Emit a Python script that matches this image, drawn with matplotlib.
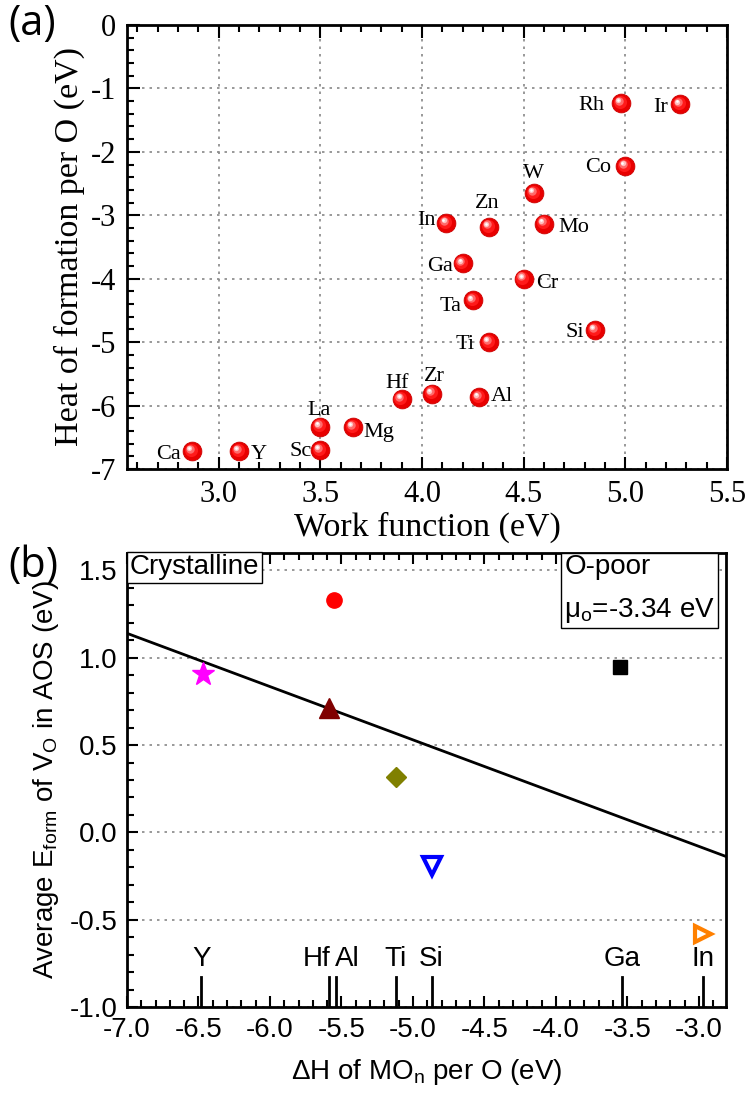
import matplotlib
matplotlib.use("Agg")
import matplotlib.pyplot as plt
from matplotlib.transforms import offset_copy
from matplotlib.ticker import MultipleLocator
import numpy as np

# ---------------- data: panel (a) ----------------
elements_a = ["Rh", "Ir", "Co", "W", "Zn", "In", "Mo", "Ga", "Cr", "Ta", "Si", "Ti",
              "Hf", "Zr", "Al", "Mg", "La", "Sc", "Ca", "Y"]
work_function = [4.98, 5.27, 5.00, 4.55, 4.33, 4.12, 4.60, 4.20, 4.50, 4.25, 4.85, 4.33,
                 3.90, 4.05, 4.28, 3.66, 3.50, 3.50, 2.87, 3.10]
heat_formation = [-1.23, -1.25, -2.22, -2.65, -3.18, -3.12, -3.13, -3.76, -4.00, -4.34, -4.81, -5.00,
                  -5.90, -5.81, -5.87, -6.34, -6.33, -6.70, -6.72, -6.72]

# ---------------- data: panel (b) ----------------
dh_points = [-6.47, -5.55, -5.59, -5.12, -4.87, -3.55, -2.97]
eform_points = [0.905, 1.33, 0.71, 0.316, -0.19, 0.95, -0.58]
fit_slope = -0.305
fit_intercept = -0.995
ref_elements = ["Y", "Hf", "Al", "Ti", "Si", "Ga", "In"]
ref_dh = [-6.48, -5.59, -5.54, -5.12, -4.87, -3.54, -2.97]
xticks_b = [-7.0, -6.5, -6.0, -5.5, -5.0, -4.5, -4.0, -3.5, -3.0]
yticks_b = [-1.0, -0.5, 0.0, 0.5, 1.0, 1.5]

# ---------------- styles ----------------
label_offsets = {  # pixels (dx, dy), ha
    "Rh": (-17, -2, "right"), "Ir": (-12, -3, "right"), "Co": (-14, -2, "right"),
    "W": (0, 20, "center"), "Zn": (-2, 23, "center"), "In": (-11, 2, "right"),
    "Mo": (14, -4, "left"), "Ga": (-10, -3, "right"), "Cr": (13, -5, "left"),
    "Ta": (-11, -6, "right"), "Si": (-11, -2, "right"), "Ti": (-14, -2, "right"),
    "Hf": (-4, 16, "center"), "Zr": (2, 17, "center"), "Al": (12, 1, "left"),
    "Mg": (11, -5, "left"), "La": (-1, 16, "center"), "Sc": (-8, -2, "right"),
    "Ca": (-11, -3, "right"), "Y": (12, -3, "left"),
}
marker_styles = [
    dict(marker="*", ms=17, mfc="#ff00ff", mec="#ff00ff"),
    dict(marker="o", ms=11, mfc="#ff0000", mec="#ff0000"),
    dict(marker="^", ms=14, mfc="#800000", mec="#800000"),
    dict(marker="D", ms=10, mfc="#808000", mec="#808000"),
    dict(marker="v", ms=13, mfc="white", mec="#0000ff", mew=3),
    dict(marker="s", ms=10, mfc="black", mec="black"),
    dict(marker=">", ms=12, mfc="white", mec="#ff8000", mew=3),
]
ref_label_ha = ["center", "right", "left", "center", "center", "center", "center"]
ref_label_dx = [0, 2, -1, 0, 0, 0, 0]

serif = "Liberation Serif"
sans = "Liberation Sans"

fig = plt.figure(figsize=(7.48, 10.95), dpi=100)
W, H = 748, 1095

def ax_rect(l, t, r, b):
    return [l / W, (H - b) / H, (r - l) / W, (b - t) / H]

# =============== panel (a) ===============
ax1 = fig.add_axes(ax_rect(127, 25, 727, 469))
ax1.set_xlim(2.55, 5.5)
ax1.set_ylim(-7, 0)
ax1.xaxis.set_minor_locator(MultipleLocator(0.1))
ax1.yaxis.set_minor_locator(MultipleLocator(0.2))
ax1.grid(True, which="major", linestyle=(0, (1.5, 3)), color="#888888", lw=1.2)
ax1.tick_params(which="both", direction="in", top=True, right=False, width=1.5)
ax1.tick_params(which="major", length=9, pad=8)
ax1.tick_params(which="minor", length=5)
ax1.set_xticks([3.0, 3.5, 4.0, 4.5, 5.0, 5.5])
ax1.set_xticklabels(["3.0", "3.5", "4.0", "4.5", "5.0", "5.5"], fontfamily=serif, fontsize=22)
ax1.set_yticks([0, -1, -2, -3, -4, -5, -6, -7])
ax1.set_yticklabels(["0", "-1", "-2", "-3", "-4", "-5", "-6", "-7"], fontfamily=serif, fontsize=22)
ax1.set_xlabel("Work function (eV)", fontfamily=serif, fontsize=24.5, labelpad=2)
ax1.set_ylabel("Heat of formation per O (eV)", fontfamily=serif, fontsize=24.5, labelpad=4)
for s in ax1.spines.values():
    s.set_linewidth(2)

# spheres
ax1.plot(work_function, heat_formation, "o", ms=13.5, mfc="#e80000", mec="#cc0000", mew=0.6, zorder=3, clip_on=False)
for frac, col, d in [(0.7, "#ff1a1a", 0.8), (0.45, "#ff6a6a", 1.6), (0.28, "#ffc0c0", 2.0), (0.14, "#ffffff", 2.2)]:
    tr = offset_copy(ax1.transData, fig=fig, x=-d, y=d, units="points")
    ax1.plot(work_function, heat_formation, "o", ms=13.5 * frac, mfc=col, mec="none", transform=tr, zorder=4, clip_on=False)

for name, x, y in zip(elements_a, work_function, heat_formation):
    dx, dy, ha = label_offsets[name]
    ax1.annotate(name, (x, y), xytext=(dx, dy), textcoords="offset pixels", ha=ha, va="center",
                 fontfamily=serif, fontsize=16, zorder=5)

fig.text(8 / W, 1 - 24 / H, "(a)", fontfamily="Open Sans", fontsize=30, va="center", ha="left")

# =============== panel (b) ===============
ax2 = fig.add_axes(ax_rect(127, 553, 726, 1007))
ax2.set_xlim(-7.0, -2.81)
ax2.set_ylim(-1.0, 1.6)
ax2.set_xticks(xticks_b)
ax2.set_xticklabels([f"{v:.1f}" for v in xticks_b], fontfamily=sans, fontsize=20)
ax2.set_yticks(yticks_b)
ax2.set_yticklabels([f"{v:.1f}" for v in yticks_b], fontfamily=sans, fontsize=20)
ax2.xaxis.set_minor_locator(MultipleLocator(0.1))
ax2.yaxis.set_minor_locator(MultipleLocator(0.1))
ax2.tick_params(which="both", direction="in", top=True, right=False, width=1.5)
ax2.tick_params(which="major", length=8, pad=7)
ax2.tick_params(which="minor", length=5)
ax2.yaxis.grid(True, which="major", linestyle=(0, (1.5, 3)), color="#888888", lw=1.2)
for s in ax2.spines.values():
    s.set_linewidth(2)

ax2.set_xlabel(r"ΔH of MO$_\mathregular{n}$ per O (eV)", fontfamily=sans, fontsize=20, labelpad=10)
ax2.set_ylabel(r"Average E$_\mathregular{form}$ of V$_\mathregular{O}$ in AOS (eV)", fontfamily=sans,
               fontsize=20, labelpad=6)

xl = np.array(ax2.get_xlim())
ax2.plot(xl, fit_slope * xl + fit_intercept, color="black", lw=2, zorder=2)

for x, y, st in zip(dh_points, eform_points, marker_styles):
    ax2.plot([x], [y], ls="none", zorder=3, **st)

for name, x, ha, dx in zip(ref_elements, ref_dh, ref_label_ha, ref_label_dx):
    ax2.plot([x, x], [-1.0, -0.83], color="black", lw=2, zorder=3)
    ax2.annotate(name, (x, -0.80), xytext=(dx, 0), textcoords="offset pixels", ha=ha, va="bottom",
                 fontfamily=sans, fontsize=20)

ax2.text(0.005, 0.997, "Crystalline", transform=ax2.transAxes, ha="left", va="top",
         fontfamily=sans, fontsize=20,
         bbox=dict(boxstyle="square,pad=0.1", fc="white", ec="black", lw=1))
ax2.text(0.73, 0.997, "O-poor\nμ$_\\mathregular{o}$=-3.34 eV", transform=ax2.transAxes, ha="left", va="top",
         fontfamily=sans, fontsize=20, linespacing=1.75,
         bbox=dict(boxstyle="square,pad=0.12", fc="white", ec="black", lw=1))

fig.text(8 / W, 1 - 566 / H, "(b)", fontfamily="Open Sans", fontsize=30, va="center", ha="left")

fig.savefig("out.png", dpi=100)
